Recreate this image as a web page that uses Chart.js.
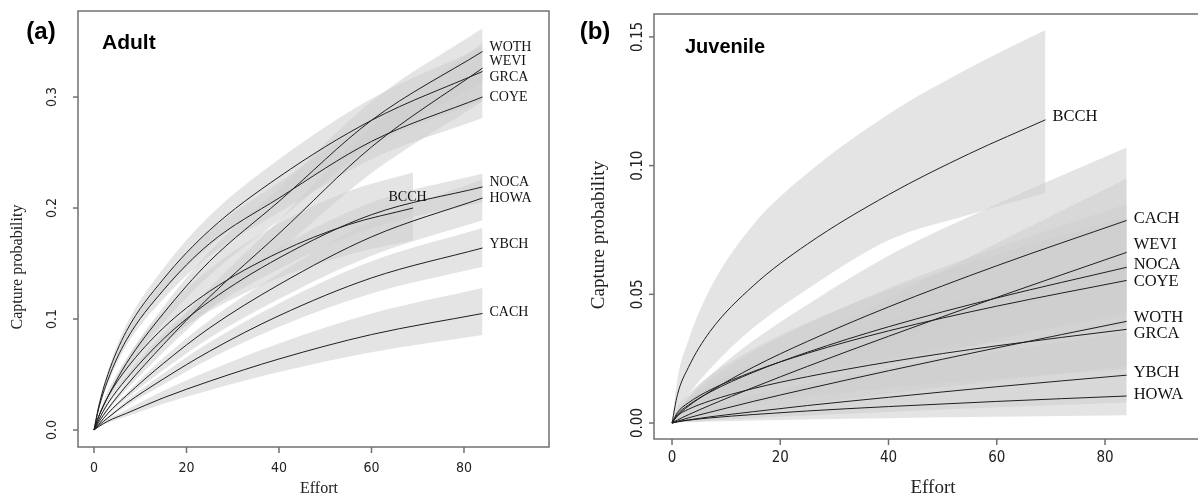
<!DOCTYPE html>
<html>
<head>
<meta charset="utf-8">
<script src="https://cdn.jsdelivr.net/npm/chart.js@4.4.1/dist/chart.umd.min.js"></script>
<style>
  html, body { margin: 0; padding: 0; background: #fff; overflow: hidden; }
  #wrap { position: relative; width: 1198px; height: 497px; overflow: hidden; }
  #adult { position: absolute; left: 0; top: 0; }
  #juvenile { position: absolute; left: 560px; top: 0; }
</style>
</head>
<body>
<div id="wrap">
  <canvas id="adult" width="560" height="497"></canvas>
  <canvas id="juvenile" width="670" height="497"></canvas>
</div>
<script>
const effortGrid = [0, 1, 3, 7, 15, 25, 40, 60, 84];
const effortGridBCCH = [0, 1, 3, 7, 15, 25, 40, 55, 69];

const effortTicks = [0, 20, 40, 60, 80];
const adultYTicks = [0, 0.1, 0.2, 0.3];
const adultYTickLabels = ["0.0", "0.1", "0.2", "0.3"];
const juvenileYTicks = [0, 0.05, 0.1, 0.15];
const juvenileYTickLabels = ["0.00", "0.05", "0.10", "0.15"];

// (a) Adult
const adultSpecies = ["WOTH", "WEVI", "GRCA", "COYE", "NOCA", "HOWA", "BCCH", "YBCH", "CACH"];
const adultMean = [
  [0, 0.012, 0.030, 0.060, 0.105, 0.152, 0.206, 0.279, 0.341],
  [0, 0.007, 0.019, 0.040, 0.077, 0.120, 0.177, 0.255, 0.326],
  [0, 0.021, 0.050, 0.089, 0.136, 0.180, 0.228, 0.279, 0.323],
  [0, 0.019, 0.045, 0.081, 0.126, 0.168, 0.209, 0.260, 0.300],
  [0, 0.009, 0.024, 0.046, 0.082, 0.116, 0.155, 0.194, 0.219],
  [0, 0.005, 0.015, 0.031, 0.060, 0.092, 0.131, 0.174, 0.209],
  [0, 0.012, 0.030, 0.055, 0.092, 0.125, 0.160, 0.185, 0.200],
  [0, 0.004, 0.011, 0.024, 0.046, 0.071, 0.103, 0.137, 0.164],
  [0, 0.003, 0.008, 0.015, 0.029, 0.044, 0.064, 0.086, 0.105]
];
const adultLower = [
  [0, 0.011, 0.0275, 0.055, 0.0965, 0.1395, 0.189, 0.256, 0.313],
  [0, 0.0064, 0.0173, 0.0363, 0.070, 0.109, 0.161, 0.2315, 0.296],
  [0, 0.019, 0.046, 0.082, 0.125, 0.166, 0.210, 0.257, 0.297],
  [0, 0.0178, 0.042, 0.076, 0.118, 0.157, 0.196, 0.244, 0.281],
  [0, 0.008, 0.022, 0.043, 0.077, 0.109, 0.145, 0.182, 0.205],
  [0, 0.0045, 0.0135, 0.028, 0.054, 0.083, 0.118, 0.157, 0.189],
  [0, 0.010, 0.026, 0.047, 0.079, 0.107, 0.137, 0.158, 0.171],
  [0, 0.0036, 0.0099, 0.0216, 0.041, 0.064, 0.093, 0.123, 0.147],
  [0, 0.0024, 0.0065, 0.0122, 0.0236, 0.0359, 0.0522, 0.070, 0.0856]
];
const adultUpper = [
  [0, 0.0127, 0.0318, 0.0636, 0.111, 0.161, 0.218, 0.296, 0.362],
  [0, 0.0075, 0.0203, 0.0428, 0.0824, 0.128, 0.189, 0.273, 0.349],
  [0, 0.0225, 0.0535, 0.095, 0.1455, 0.193, 0.244, 0.2985, 0.345],
  [0, 0.0203, 0.048, 0.0865, 0.1345, 0.179, 0.223, 0.2775, 0.320],
  [0, 0.0095, 0.025, 0.049, 0.087, 0.122, 0.164, 0.205, 0.231],
  [0, 0.0055, 0.016, 0.033, 0.065, 0.099, 0.141, 0.188, 0.226],
  [0, 0.014, 0.035, 0.064, 0.107, 0.145, 0.186, 0.215, 0.232],
  [0, 0.0044, 0.0122, 0.0266, 0.051, 0.079, 0.114, 0.152, 0.182],
  [0, 0.0037, 0.0098, 0.0183, 0.0354, 0.0537, 0.078, 0.105, 0.128]
];

// (b) Juvenile
const juvenileSpecies = ["BCCH", "CACH", "WEVI", "NOCA", "COYE", "WOTH", "GRCA", "YBCH", "HOWA"];
const juvenileMean = [
  [0, 0.011, 0.0215, 0.0355, 0.0533, 0.0695, 0.0887, 0.1047, 0.1178],
  [0, 0.0028, 0.0065, 0.0122, 0.0217, 0.0317, 0.0451, 0.0611, 0.0787],
  [0, 0.0012, 0.0032, 0.0069, 0.0138, 0.022, 0.0337, 0.0488, 0.0663],
  [0, 0.0034, 0.0069, 0.012, 0.0197, 0.0275, 0.0374, 0.0486, 0.0605],
  [0, 0.0041, 0.0078, 0.0128, 0.020, 0.0271, 0.0358, 0.0454, 0.0554],
  [0, 0.0007, 0.002, 0.0042, 0.0084, 0.0133, 0.0203, 0.0292, 0.0395],
  [0, 0.0028, 0.0053, 0.0086, 0.0134, 0.018, 0.0237, 0.030, 0.0364],
  [0, 0.0005, 0.0012, 0.0024, 0.0044, 0.0068, 0.010, 0.0141, 0.0186],
  [0, 0.0005, 0.0011, 0.002, 0.0033, 0.0047, 0.0064, 0.0084, 0.0105]
];
const juvenileLower = [
  [0, 0.005, 0.011, 0.021, 0.037, 0.052, 0.071, 0.081, 0.0895],
  [0, 0.0015, 0.0038, 0.0075, 0.0138, 0.021, 0.031, 0.043, 0.056],
  [0, 0.0008, 0.0021, 0.0046, 0.0091, 0.0145, 0.0222, 0.0322, 0.044],
  [0, 0.0023, 0.0048, 0.0083, 0.0136, 0.019, 0.0258, 0.0335, 0.042],
  [0, 0.0028, 0.0054, 0.0088, 0.0138, 0.0187, 0.0247, 0.0313, 0.038],
  [0, 0.0004, 0.0011, 0.0024, 0.0047, 0.0074, 0.0114, 0.0164, 0.022],
  [0, 0.0016, 0.0031, 0.005, 0.0078, 0.0104, 0.0137, 0.0174, 0.021],
  [0, 0.0002, 0.0005, 0.001, 0.0019, 0.0029, 0.0043, 0.0061, 0.008],
  [0, 0.0002, 0.0003, 0.0006, 0.001, 0.0014, 0.0019, 0.0024, 0.003]
];
const juvenileUpper = [
  [0, 0.017, 0.032, 0.052, 0.077, 0.097, 0.120, 0.138, 0.1527],
  [0, 0.0045, 0.010, 0.0185, 0.032, 0.046, 0.065, 0.085, 0.107],
  [0, 0.0017, 0.0046, 0.0099, 0.0197, 0.0315, 0.0482, 0.0698, 0.095],
  [0, 0.0048, 0.0097, 0.0168, 0.0276, 0.0385, 0.0524, 0.068, 0.085],
  [0, 0.0059, 0.0112, 0.0184, 0.0288, 0.039, 0.0516, 0.0654, 0.080],
  [0, 0.0012, 0.0033, 0.007, 0.014, 0.0222, 0.0339, 0.0488, 0.066],
  [0, 0.0048, 0.009, 0.0146, 0.0228, 0.0306, 0.0403, 0.051, 0.062],
  [0, 0.0011, 0.0026, 0.0052, 0.0095, 0.0146, 0.0215, 0.0303, 0.040],
  [0, 0.0017, 0.0036, 0.0066, 0.0109, 0.0155, 0.0211, 0.0277, 0.035]
];

// where the species names sit: [effort, probability, align]
const adultLabelAt = [
  [84, 0.345, "left"], [84, 0.332, "left"], [84, 0.318, "left"], [84, 0.300, "left"],
  [84, 0.223, "left"], [84, 0.209, "left"], [67.8, 0.210, "center"], [84, 0.167, "left"],
  [84, 0.106, "left"]
];
const juvenileLabelAt = [
  [69, 0.119, "left"], [84, 0.0793, "left"], [84, 0.0692, "left"], [84, 0.0614, "left"],
  [84, 0.0548, "left"], [84, 0.0408, "left"], [84, 0.0346, "left"], [84, 0.0194, "left"],
  [84, 0.0109, "left"]
];

const bandFill = "rgba(205,205,205,0.55)";
const lineColor = "#1e1e1e";
const serif = '"Liberation Serif", "Times New Roman", serif';
const sans = '"Liberation Sans", Arial, sans-serif';
const narrow = '"Liberation Sans Narrow", "DejaVu Sans Condensed", sans-serif';

function buildDatasets(species, mean, lower, upper) {
  const sets = [];
  const pts = (xs, arr) => arr.map((v, j) => ({ x: xs[j], y: v }));
  species.forEach((sp, i) => {
    const xs = sp === "BCCH" ? effortGridBCCH : effortGrid;
    sets.push({ label: sp + " low", data: pts(xs, lower[i]), borderColor: "rgba(0,0,0,0)", borderWidth: 0, fill: false });
    sets.push({ label: sp + " high", data: pts(xs, upper[i]), borderColor: "rgba(0,0,0,0)", borderWidth: 0, fill: "-1", backgroundColor: bandFill });
  });
  species.forEach((sp, i) => {
    const xs = sp === "BCCH" ? effortGridBCCH : effortGrid;
    sets.push({ label: sp, data: pts(xs, mean[i]), borderColor: lineColor, borderWidth: 1, fill: false });
  });
  return sets;
}

// R style frame, ticks, titles and curve names
function panelPlugin(p) {
  return {
    id: "rpanel",
    afterDraw(chart) {
      const { ctx, chartArea: a, scales: { x, y } } = chart;
      ctx.save();
      ctx.strokeStyle = "#707070";
      ctx.lineWidth = 1.5;
      ctx.strokeRect(a.left, a.top, a.right - a.left, a.bottom - a.top);

      ctx.fillStyle = "#222";
      ctx.font = p.tickFont;
      ctx.textAlign = "center";
      ctx.textBaseline = "middle";
      effortTicks.forEach((v) => {
        const px = x.getPixelForValue(v);
        ctx.beginPath();
        ctx.moveTo(px, a.bottom);
        ctx.lineTo(px, a.bottom + 6);
        ctx.stroke();
        ctx.fillText(String(v), px, a.bottom + p.xLabelGap);
      });
      p.yTicks.forEach((v, i) => {
        const py = y.getPixelForValue(v);
        ctx.beginPath();
        ctx.moveTo(a.left, py);
        ctx.lineTo(a.left - 5, py);
        ctx.stroke();
        ctx.save();
        ctx.translate(a.left - p.yLabelGap, py);
        ctx.rotate(-Math.PI / 2);
        ctx.fillText(p.yTickLabels[i], 0, 0);
        ctx.restore();
      });

      ctx.font = p.titleFont;
      ctx.fillText("Effort", p.xTitle[0], p.xTitle[1]);
      ctx.save();
      ctx.translate(p.yTitle[0], p.yTitle[1]);
      ctx.rotate(-Math.PI / 2);
      ctx.fillText("Capture probability", 0, 0);
      ctx.restore();

      ctx.fillStyle = "#000";
      ctx.font = "bold " + p.letterSize + "px " + sans;
      ctx.fillText(p.letter, p.letterAt[0], p.letterAt[1]);
      ctx.textAlign = "left";
      ctx.textBaseline = "alphabetic";
      ctx.font = "bold " + p.headSize + "px " + sans;
      ctx.fillText(p.head, p.headAt[0], p.headAt[1]);

      ctx.fillStyle = "#111";
      ctx.font = p.nameFont;
      ctx.textBaseline = "middle";
      p.species.forEach((sp, i) => {
        const [ex, ey, align] = p.labelAt[i];
        ctx.textAlign = align;
        const off = align === "left" ? 7 : 0;
        ctx.fillText(sp, x.getPixelForValue(ex) + off, y.getPixelForValue(ey));
      });
      ctx.restore();
    }
  };
}

function makeChart(id, species, mean, lower, upper, opts, plug) {
  return new Chart(document.getElementById(id), {
    type: "line",
    data: { datasets: buildDatasets(species, mean, lower, upper) },
    options: {
      responsive: false,
      animation: false,
      devicePixelRatio: 1,
      layout: { padding: opts.padding },
      elements: {
        point: { radius: 0 },
        line: { cubicInterpolationMode: "monotone" }
      },
      scales: {
        x: { type: "linear", min: opts.xMin, max: opts.xMax, display: false },
        y: { type: "linear", min: opts.yMin, max: opts.yMax, display: false }
      },
      plugins: {
        legend: { display: false },
        tooltip: { enabled: false },
        filler: { drawTime: "beforeDatasetsDraw" }
      }
    },
    plugins: [plug]
  });
}

makeChart("adult", adultSpecies, adultMean, adultLower, adultUpper,
  { padding: { left: 78, top: 11, right: 11, bottom: 50 }, xMin: -3.46, xMax: 98.38, yMin: -0.0153, yMax: 0.3775 },
  panelPlugin({
    tickFont: "14px " + narrow, titleFont: "16px " + serif, nameFont: "14px " + serif,
    xLabelGap: 21, yLabelGap: 26, yTicks: adultYTicks, yTickLabels: adultYTickLabels,
    xTitle: [319, 489], yTitle: [18, 267],
    letter: "(a)", letterSize: 24, letterAt: [41, 32],
    head: "Adult", headSize: 21, headAt: [102, 49],
    species: adultSpecies, labelAt: adultLabelAt
  }));

makeChart("juvenile", juvenileSpecies, juvenileMean, juvenileLower, juvenileUpper,
  { padding: { left: 94, top: 14, right: 18, bottom: 58 }, xMin: -3.33, xMax: 99.77, yMin: -0.0062, yMax: 0.1589 },
  panelPlugin({
    tickFont: "15px " + narrow, titleFont: "19px " + serif, nameFont: "16.5px " + serif,
    xLabelGap: 19, yLabelGap: 16, yTicks: juvenileYTicks, yTickLabels: juvenileYTickLabels,
    xTitle: [373, 488], yTitle: [39, 235],
    letter: "(b)", letterSize: 24, letterAt: [35, 32],
    head: "Juvenile", headSize: 20, headAt: [125, 53],
    species: juvenileSpecies, labelAt: juvenileLabelAt
  }));
</script>
</body>
</html>
